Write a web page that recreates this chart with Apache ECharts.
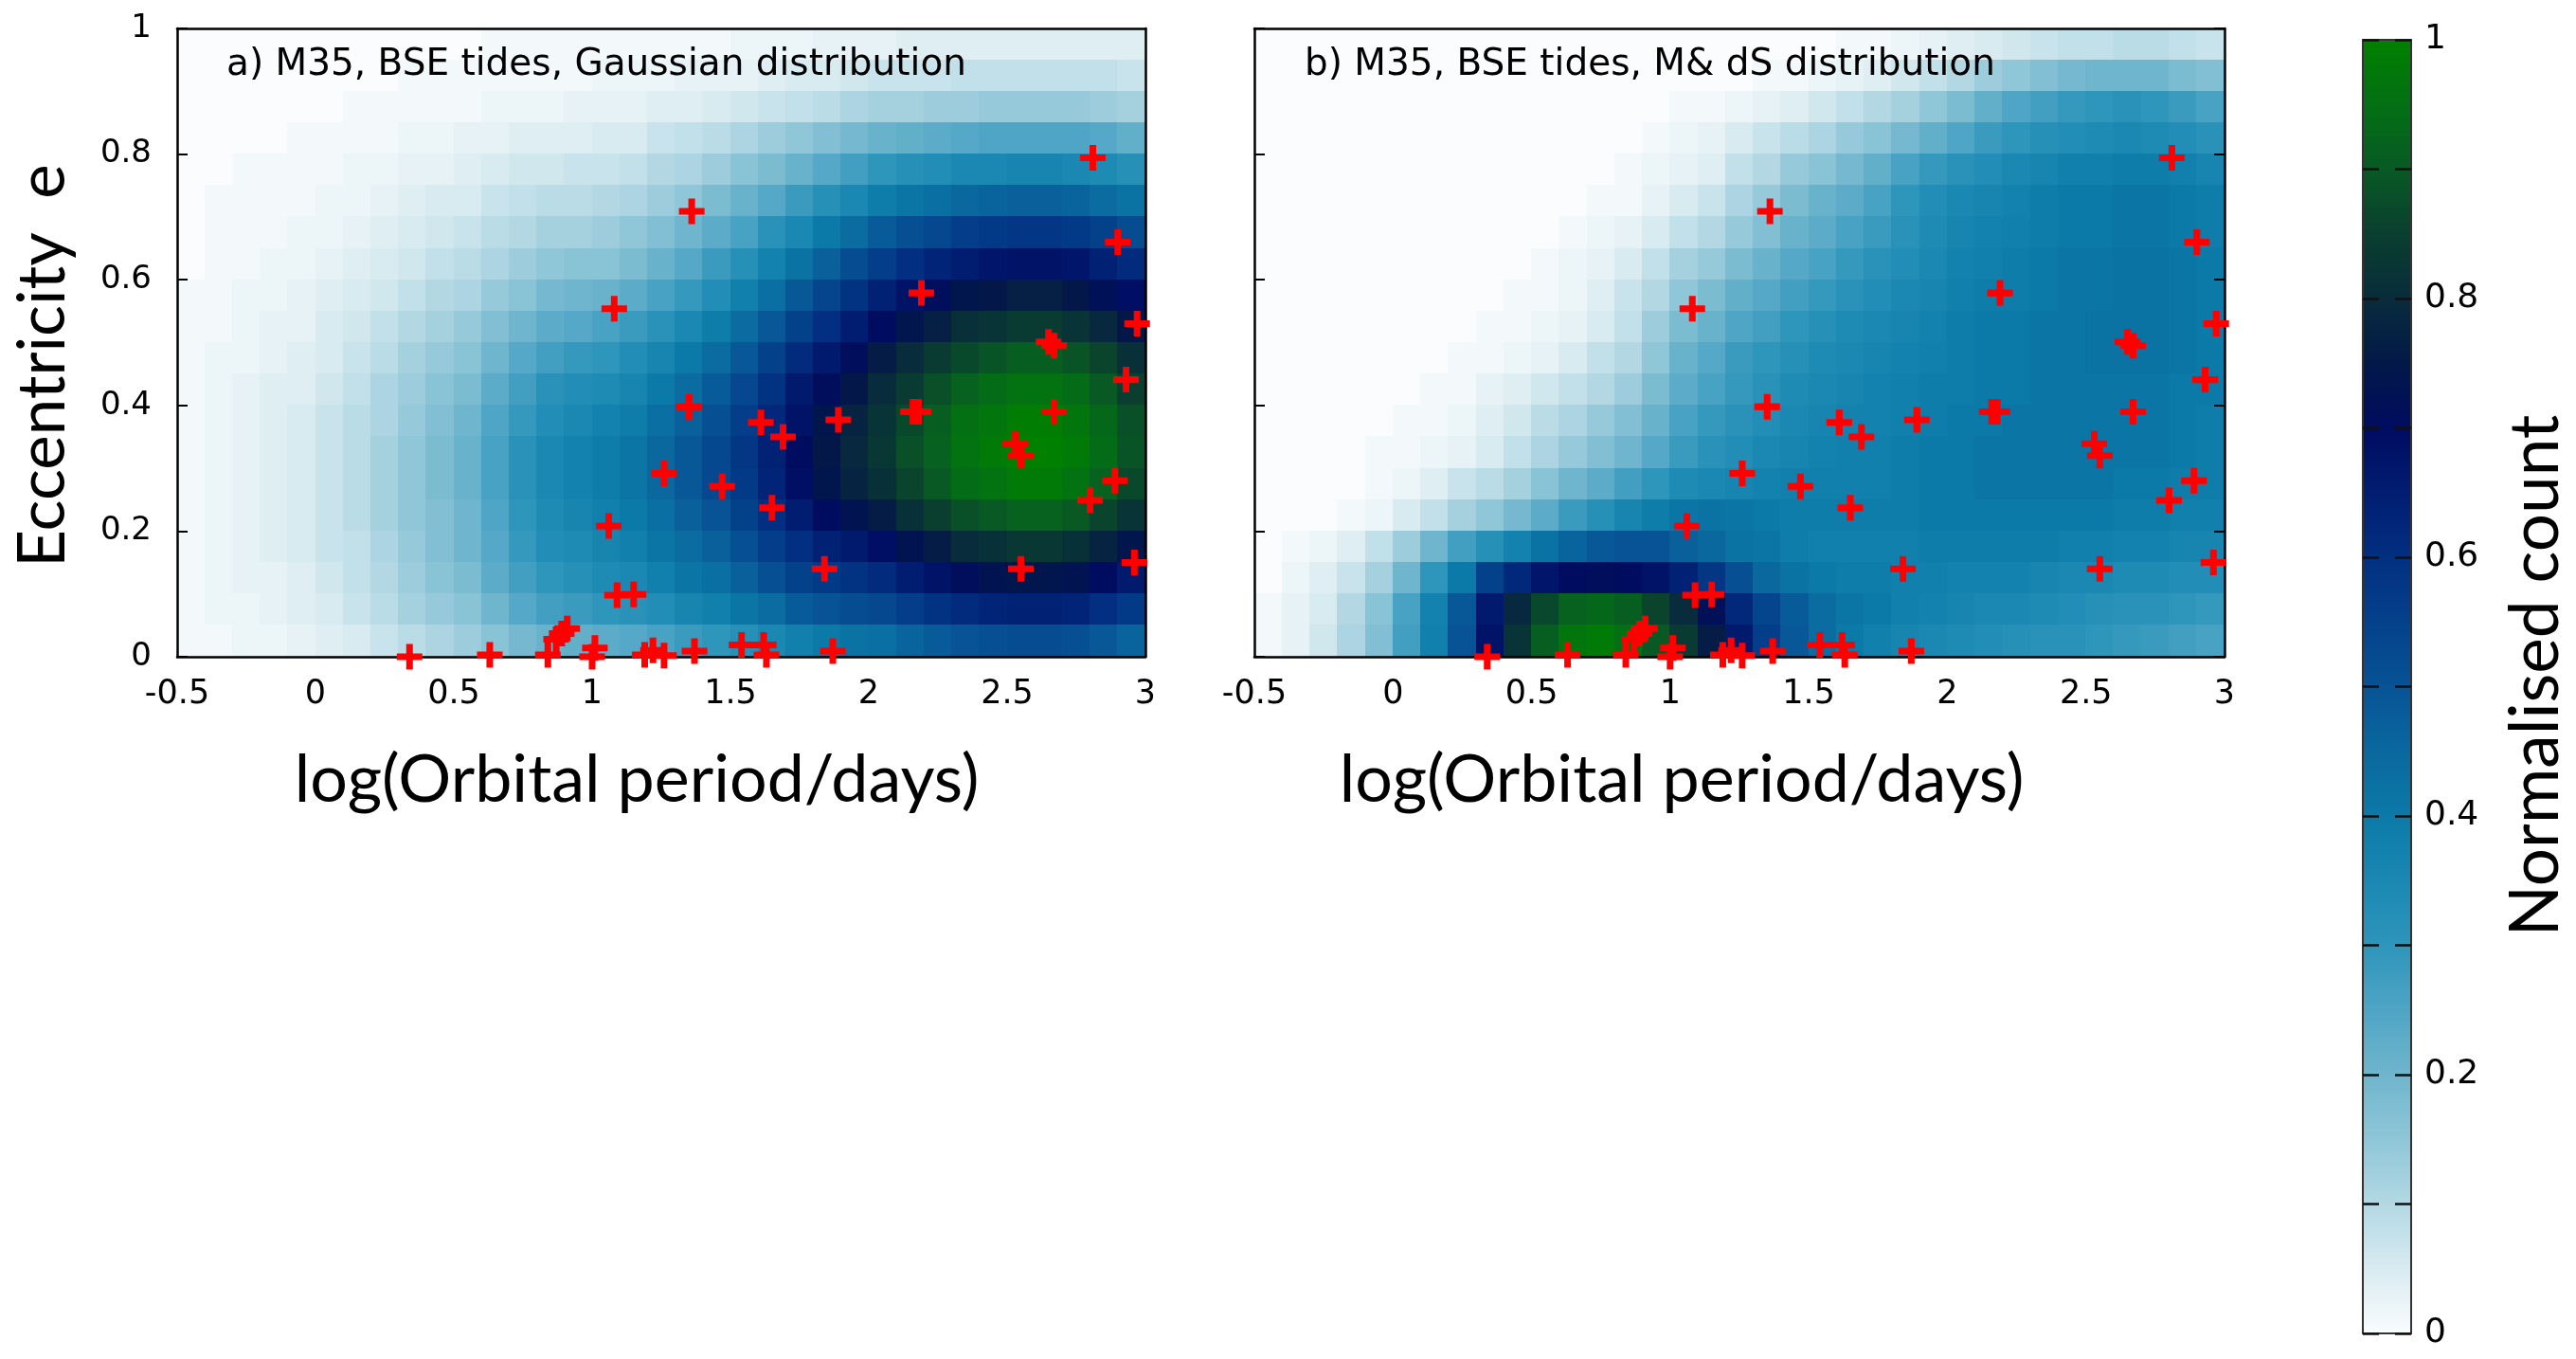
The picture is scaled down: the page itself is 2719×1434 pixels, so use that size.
<!DOCTYPE html>
<html>
<head>
<meta charset="utf-8">
<script src="https://cdn.jsdelivr.net/npm/echarts@6/dist/echarts.min.js"></script>
<style>html,body{margin:0;padding:0;background:#fff;}#chart{width:2719px;height:1434px;}</style>
</head>
<body>
<div id="chart"></div>
<script>
// ---- bins (centres) ----
const logPCentres = [-0.45,-0.35,-0.25,-0.15,-0.05,0.05,0.15,0.25,0.35,0.45,0.55,0.65,0.75,0.85,0.95,1.05,1.15,1.25,1.35,1.45,1.55,1.65,1.75,1.85,1.95,2.05,2.15,2.25,2.35,2.45,2.55,2.65,2.75,2.85,2.95];
const eCentres = [0.975,0.925,0.875,0.825,0.775,0.725,0.675,0.625,0.575,0.525,0.475,0.425,0.375,0.325,0.275,0.225,0.175,0.125,0.075,0.025];
const logPBinWidth = 0.1;
const eBinHeight = 0.05;

// ---- panel a) Gaussian distribution: normalised count x100, rows top (e=0.975) to bottom ----
const gaussRows = [
[0,0,0,0,0,0,0,0,0,0,0,1,1,1,1,1, 1,1,1,1,2,2,2,3,3, 3,4,4,4,4,4,4,4,4,4],
[0,0,0,0,0,0,0,0,1,1,1,1,1,1,1,2, 2,2,3,3,3,4,5,5,6, 7,7,7,8,8,8,8,8,8,7],
[0,0,0,0,0,0,1,1,1,1,1,2,2,2,3,3, 3,4,4,5,6,7,8,9,11, 12,12,13,13,14,14,14,14,13,12],
[0,0,0,0,1,1,1,1,2,2,3,3,4,4,4,5, 5,7,8,9,11,13,15,17,19, 21,22,23,24,25,25,25,25,24,22],
[0,0,1,1,1,1,2,2,3,3,4,5,6,6,7,7, 8,10,11,13,16,18,21,24,27, 30,32,33,35,35,36,36,35,34,32],
[0,1,1,1,1,2,2,3,4,5,5,7,8,9,9,10, 11,13,15,18,21,24,28,32,35, 39,41,43,45,46,47,47,46,44,42],
[0,1,1,1,2,2,3,4,5,6,7,9,10,12,12,13, 15,17,20,23,26,31,35,40,44, 48,51,53,56,57,58,58,57,55,52],
[0,1,1,2,2,3,4,5,6,8,9,11,13,15,16,16, 18,21,24,28,32,37,42,47,52, 56,60,63,65,67,68,68,67,64,61],
[1,1,2,2,3,4,5,6,8,10,11,14,16,19,20,21, 23,26,29,33,38,43,49,54,59, 64,68,71,74,75,77,77,75,72,69],
[1,1,2,3,3,5,6,8,10,12,14,17,20,23,24,26, 28,31,35,39,44,49,55,60,65, 70,74,77,81,82,84,84,82,79,75],
[1,2,2,3,4,5,7,9,12,14,16,20,24,27,29,30, 33,36,40,44,49,55,61,66,71, 76,80,84,87,89,91,91,89,86,81],
[1,2,3,4,4,6,8,11,13,16,18,23,27,31,33,34, 36,40,44,48,53,59,66,71,75, 80,84,88,92,94,96,96,94,90,85],
[1,2,3,4,5,7,9,11,14,17,20,25,29,33,35,37, 39,43,47,51,56,62,68,74,78, 82,87,91,95,97,99,99,97,93,88],
[1,2,3,4,5,7,9,12,15,18,21,26,31,35,37,39, 41,45,49,53,58,64,70,75,79, 83,88,92,96,98,100,100,98,94,89],
[1,2,3,4,5,7,9,12,15,18,21,26,31,35,37,39, 41,45,49,53,57,63,69,74,78, 81,86,90,94,96,98,98,96,92,87],
[1,2,3,4,5,7,9,12,15,17,20,25,30,34,36,38, 40,43,47,50,55,60,65,70,73, 76,81,85,88,90,92,92,90,86,82],
[1,2,3,4,5,7,8,11,14,17,20,24,29,33,34,36, 38,41,44,47,51,56,60,64,66, 69,73,76,80,81,83,83,81,78,74],
[1,2,3,3,4,6,8,10,13,16,18,23,27,30,32,34, 35,38,41,43,47,51,55,57,59, 61,65,68,71,73,74,74,73,70,66],
[1,2,2,3,4,5,7,9,12,14,16,20,24,27,28,30, 31,33,36,38,41,44,48,50,52, 53,56,59,61,63,64,64,63,60,57],
[1,1,2,2,3,4,5,7,9,11,13,16,19,21,22,23, 24,26,28,30,32,35,38,40,42, 43,46,48,50,51,52,52,51,49,46]
];

// ---- panel b) M& dS distribution: normalised count x100, rows top (e=0.975) to bottom ----
const mdsRows = [
[0,0,0,0,0,0,0,0,0,0,0,0,0,0,0,0,0,0,0,0,0,1,1,2,3,4,5,6,7,8,8,9,9,8,7],
[0,0,0,0,0,0,0,0,0,0,0,0,0,0,0,0,0,0,1,1,2,3,4,6,8,10,13,15,17,19,20,20,20,18,17],
[0,0,0,0,0,0,0,0,0,0,0,0,0,0,0,1,1,2,3,4,6,8,10,12,15,18,22,25,27,29,30,31,30,28,26],
[0,0,0,0,0,0,0,0,0,0,0,0,0,0,1,2,3,5,7,9,11,14,16,19,22,25,28,30,32,33,34,35,34,33,31],
[0,0,0,0,0,0,0,0,0,0,0,0,0,1,2,3,4,8,10,14,16,19,22,26,29,31,33,35,36,38,38,39,39,38,36],
[0,0,0,0,0,0,0,0,0,0,0,0,1,1,3,5,7,11,14,18,21,23,26,30,33,35,36,37,39,40,40,41,41,40,39],
[0,0,0,0,0,0,0,0,0,0,0,1,2,3,5,8,10,14,17,21,23,26,28,31,34,36,37,38,39,40,40,41,41,40,39],
[0,0,0,0,0,0,0,0,0,0,1,2,3,5,8,12,14,18,21,24,26,29,31,33,35,37,38,39,40,41,41,42,42,41,40],
[0,0,0,0,0,0,0,0,0,1,1,2,4,7,10,15,18,22,24,27,29,31,33,35,36,38,39,39,40,41,41,42,42,41,40],
[0,0,0,0,0,0,0,0,1,1,2,3,5,8,13,18,21,25,27,30,32,34,35,36,37,39,40,40,41,41,42,42,42,41,40],
[0,0,0,0,0,0,0,1,1,2,3,5,8,10,15,21,24,28,30,32,34,35,36,37,38,39,40,40,41,41,42,42,42,41,40],
[0,0,0,0,0,0,1,1,3,4,6,8,10,13,18,23,26,29,31,34,35,36,37,38,39,39,40,40,41,41,41,41,41,40,40],
[0,0,0,0,0,1,1,2,4,6,9,11,14,17,21,26,29,31,33,35,36,37,37,38,39,40,40,41,41,41,41,41,41,40,39],
[0,0,0,0,1,1,2,3,5,8,11,14,17,20,24,28,31,33,35,36,37,38,38,39,40,40,41,41,41,41,41,41,41,40,39],
[0,0,0,0,1,2,4,7,9,12,16,20,23,27,30,34,35,36,37,38,38,38,38,39,40,40,41,41,41,41,41,40,40,39,39],
[0,0,0,1,2,5,8,12,15,19,23,28,32,36,39,41,42,41,40,39,39,39,39,39,40,40,40,40,40,40,40,39,39,38,38],
[0,1,2,4,8,13,20,27,32,37,42,46,49,50,50,47,45,42,41,39,38,38,38,38,39,39,39,39,39,38,38,37,37,36,36],
[0,2,4,7,12,20,30,40,55,62,67,70,71,70,68,64,58,51,45,42,40,39,39,38,38,37,37,37,36,35,35,34,34,33,33],
[1,3,5,10,16,26,37,49,66,79,87,92,93,91,86,80,72,62,54,48,44,41,40,38,37,36,35,35,34,33,32,31,31,30,29],
[1,3,6,11,17,27,38,50,68,82,91,97,98,95,90,84,76,66,56,49,44,40,38,36,35,34,33,32,31,31,30,29,28,27,26]
];

// ---- observed M35 binaries (same in both panels) ----
const binaryLogP = [2.81,1.36,2.90,2.19,1.08,2.97,2.65,2.67,2.93,1.35,2.16,2.18,2.67,1.61,1.69,1.89,2.53,2.55,1.26,1.47,2.89,2.80,1.65,1.06,1.84,2.55,2.96,1.09,1.15,0.87,0.89,0.91,0.34,0.63,0.84,1.00,1.01,1.19,1.22,1.26,1.37,1.54,1.62,1.63,1.87];
const binaryEcc  = [0.794,0.709,0.660,0.579,0.554,0.530,0.501,0.495,0.441,0.398,0.390,0.390,0.390,0.373,0.350,0.377,0.339,0.320,0.292,0.271,0.280,0.249,0.237,0.208,0.140,0.140,0.150,0.098,0.099,0.028,0.037,0.045,0.000,0.003,0.003,0.000,0.014,0.003,0.010,0.002,0.009,0.019,0.019,0.003,0.009];

const panelLabels = ['a) M35, BSE tides, Gaussian distribution', 'b) M35, BSE tides, M& dS distribution'];
const xAxisTitle = 'log(Orbital period/days)';
const yAxisTitle = 'Eccentricity  e';
const colourbarTitle = 'Normalised count';

// colour scale: 0 (white) -> 1 (green), 21 evenly spaced stops
const colourStops = ['#fafcfd','#d8ebf1','#b3d8e4','#8fc6d8','#6fb5cd','#4fa5c5','#2e95bb','#1a88b2','#0b7aa8','#0a689f','#075395','#04418b','#022f81','#011d72','#000c60','#031849','#082c3c','#0a3f2f','#085924','#037014','#008000'];

function toCells(rows) {
  const out = [];
  rows.forEach((row, r) => row.forEach((v, c) => out.push([logPCentres[c], eCentres[r], v])));
  return out;
}
const gaussData = toCells(gaussRows);
const mdsData = toCells(mdsRows);
const binaryData = binaryLogP.map((x, i) => [x, binaryEcc[i]]);

function renderCell(params, api) {
  const x = api.value(0), y = api.value(1);
  const p0 = api.coord([x - logPBinWidth / 2, y + eBinHeight / 2]);
  const p1 = api.coord([x + logPBinWidth / 2, y - eBinHeight / 2]);
  const x0 = Math.floor(p0[0]), y0 = Math.floor(p0[1]);
  return {
    type: 'rect',
    shape: { x: x0, y: y0, width: Math.ceil(p1[0]) - x0 + 1, height: Math.ceil(p1[1]) - y0 + 1 },
    style: { fill: api.visual('color') }
  };
}

const plusSymbol = 'path://M3.7,0H6.3V3.7H10V6.3H6.3V10H3.7V6.3H0V3.7H3.7Z';
const tickFont = { fontFamily: 'DejaVu Sans', fontSize: 34, color: '#000' };
const titleFont = { fontFamily: 'Lato', fontSize: 70, color: '#000' };
const frameLine = { show: true, onZero: false, lineStyle: { color: '#000', width: 2.5 } };
const barLine = { show: true, onZero: false, lineStyle: { color: '#333', width: 2 } };

function bottomAxis(grid, namePad) {
  return {
    type: 'value', gridIndex: grid, position: 'bottom', min: -0.5, max: 3, interval: 0.5, z: 5,
    axisLine: frameLine, axisTick: { show: false }, splitLine: { show: false },
    axisLabel: Object.assign({ margin: 22, showMinLabel: true, showMaxLabel: true, hideOverlap: false }, tickFont, { fontSize: 35 }),
    name: xAxisTitle, nameLocation: 'middle', nameGap: 95,
    nameTextStyle: Object.assign({ padding: namePad }, titleFont)
  };
}
function topAxis(grid) {
  return { type: 'value', gridIndex: grid, position: 'top', min: -0.5, max: 3, z: 5,
    axisLine: frameLine, axisTick: { show: false }, axisLabel: { show: false }, splitLine: { show: false } };
}
function eAxis(grid, pos, opts) {
  return Object.assign({
    type: 'value', gridIndex: grid, position: pos, min: 0, max: 1, interval: 0.2, z: 5,
    axisLine: frameLine, splitLine: { show: false },
    axisTick: { show: true, inside: true, length: 11, lineStyle: { color: '#000', width: 2 } },
    axisLabel: { show: false }
  }, opts);
}
function barAxis(pos, opts) {
  return Object.assign({
    type: 'value', gridIndex: 2, position: pos, min: 0, max: 1, interval: 0.1, z: 5,
    axisLine: barLine, splitLine: { show: false },
    axisTick: { show: true, inside: true, length: 17, lineStyle: { color: '#111', width: 2.5 } },
    axisLabel: { show: false }
  }, opts);
}

const option = {
  backgroundColor: '#fff',
  animation: false,
  title: [
    { text: panelLabels[0], left: 239, top: 49, padding: 0, textStyle: { fontFamily: 'DejaVu Sans', fontSize: 39, fontWeight: 'normal', color: '#000' } },
    { text: panelLabels[1], left: 1377, top: 49, padding: 0, textStyle: { fontFamily: 'DejaVu Sans', fontSize: 39, fontWeight: 'normal', color: '#000' } }
  ],
  grid: [
    { left: 187, top: 30, width: 1022, height: 663, show: false },
    { left: 1324, top: 30, width: 1024, height: 663, show: false },
    { left: 2494, top: 42, width: 51, height: 1365, show: false }
  ],
  visualMap: {
    type: 'continuous', min: 0, max: 100, dimension: 2, seriesIndex: [0, 2],
    calculable: false, orient: 'vertical', left: 2494, top: 42, itemWidth: 51, itemHeight: 1365,
    padding: 0, text: null, z: 1,
    inRange: { color: colourStops }
  },
  xAxis: [
    bottomAxis(0, [0, 52, 0, 0]), topAxis(0),
    bottomAxis(1, [0, 122, 0, 0]), topAxis(1),
    { type: 'value', gridIndex: 2, position: 'bottom', min: 0, max: 1, z: 5, axisLine: barLine, axisTick: { show: false }, axisLabel: { show: false }, splitLine: { show: false } },
    { type: 'value', gridIndex: 2, position: 'top', min: 0, max: 1, z: 5, axisLine: barLine, axisTick: { show: false }, axisLabel: { show: false }, splitLine: { show: false } }
  ],
  yAxis: [
    eAxis(0, 'left', {
      axisLabel: Object.assign({ show: true, margin: 27, showMinLabel: true, showMaxLabel: true }, tickFont),
      name: yAxisTitle, nameLocation: 'middle', nameGap: 107,
      nameTextStyle: Object.assign({ padding: [0, 49, 0, 0] }, titleFont, { fontSize: 69 })
    }),
    eAxis(0, 'right', { axisTick: { show: false } }),
    eAxis(1, 'left', {}),
    eAxis(1, 'right', {}),
    barAxis('left', {}),
    barAxis('right', {
      axisLabel: Object.assign({ show: true, margin: 14, showMinLabel: true, showMaxLabel: true,
        formatter: v => (Math.round(v * 10) % 2 === 0 ? String(+v.toFixed(1)) : '') }, tickFont, { fontSize: 36 }),
      name: colourbarTitle, nameLocation: 'middle', nameGap: 97,
      nameTextStyle: Object.assign({ padding: [0, 0, 0, 23] }, titleFont, { fontSize: 71 })
    })
  ],
  series: [
    { type: 'custom', xAxisIndex: 0, yAxisIndex: 0, data: gaussData, encode: { x: 0, y: 1 }, renderItem: renderCell, z: 1, clip: true },
    { type: 'scatter', xAxisIndex: 0, yAxisIndex: 0, data: binaryData, symbol: plusSymbol, symbolSize: 27, clip: false, z: 20, itemStyle: { color: '#ff0000', opacity: 1 } },
    { type: 'custom', xAxisIndex: 2, yAxisIndex: 2, data: mdsData, encode: { x: 0, y: 1 }, renderItem: renderCell, z: 1, clip: true },
    { type: 'scatter', xAxisIndex: 2, yAxisIndex: 2, data: binaryData, symbol: plusSymbol, symbolSize: 27, clip: false, z: 20, itemStyle: { color: '#ff0000', opacity: 1 } }
  ]
};

const chart = echarts.init(document.getElementById('chart'), null, { renderer: 'canvas' });
chart.setOption(option);
</script>
</body>
</html>
